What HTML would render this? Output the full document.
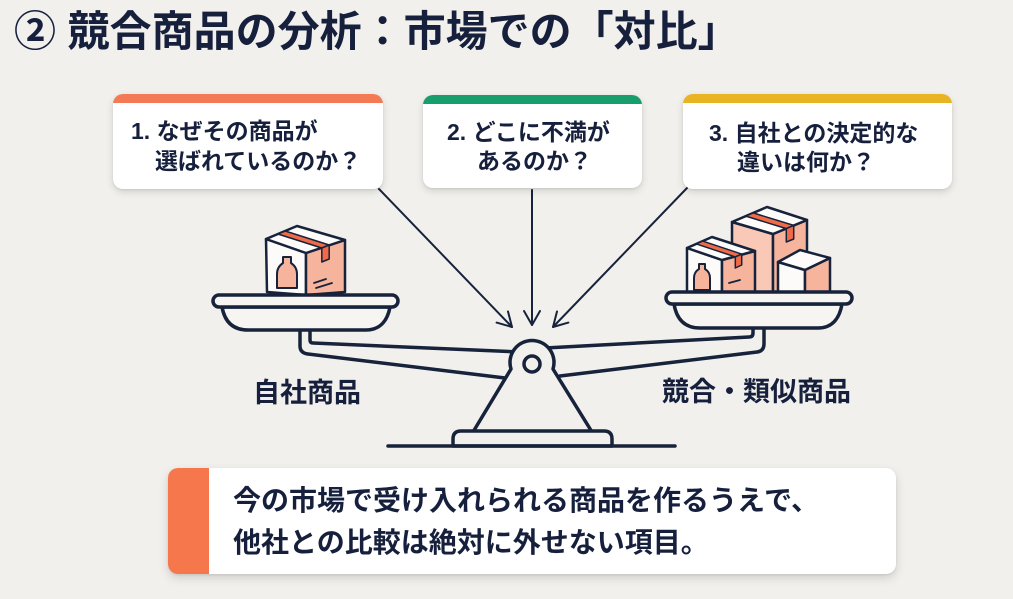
<!DOCTYPE html>
<html lang="ja">
<head>
<meta charset="utf-8">
<style>
  html,body{margin:0;padding:0;}
  body{width:1013px;height:599px;position:relative;overflow:hidden;background:#f1f0ec;
    font-family:"Liberation Sans","Noto Sans CJK JP",sans-serif;color:#16203d;font-weight:700;}
  .abs{position:absolute;white-space:nowrap;}
  .title{left:14px;top:7px;font-size:42px;line-height:50px;}
  .card{position:absolute;background:#fff;border-radius:10px;overflow:hidden;
    box-shadow:0 3px 8px rgba(0,0,0,0.13),0 1px 2px rgba(0,0,0,0.08);}
  .bar{position:absolute;left:0;top:0;right:0;height:9px;}
  .ct{font-size:23px;line-height:30px;}
  .lbl{font-size:27px;line-height:27px;}
  .note{position:absolute;left:168px;top:468px;width:728px;height:106px;background:#fff;border-radius:10px;overflow:hidden;
    box-shadow:0 4px 10px rgba(0,0,0,0.14),0 1px 2px rgba(0,0,0,0.08);}
  .note .ob{position:absolute;left:0;top:0;bottom:0;width:41px;background:#f6774c;}
  .nt{font-size:28px;line-height:42px;}
  svg{position:absolute;left:0;top:0;}
</style>
</head>
<body>

<div class="abs title">② 競合商品の分析：市場での「対比」</div>

<svg width="1013" height="599" viewBox="0 0 1013 599">
  <g fill="none" stroke="#17223b" stroke-linecap="round" stroke-linejoin="round">
    <!-- arrows -->
    <path d="M379 189 L512 327" stroke-width="2"/>
    <path d="M508 311.5 L512 327 L496.6 322.6" stroke-width="2"/>
    <path d="M532 190 L532 325" stroke-width="2"/>
    <path d="M524 311 L532 325 L540 311" stroke-width="2"/>
    <path d="M687 188 L553 327" stroke-width="2"/>
    <path d="M557 311.5 L553 327 L568.4 322.6" stroke-width="2"/>

    <!-- beam left -->
    <path d="M310 330 L310 340 Q310 343 313 343 L520 352" stroke-width="3.5"/>
    <path d="M300 330 L300 346 Q300 353 308 354 L505 378" stroke-width="3.5"/>
    <!-- beam right -->
    <path d="M545 348 L749 337 Q753 337 753 333 L753 328" stroke-width="3.5"/>
    <path d="M560 376 L757 352 Q764 351 764 344 L764 328" stroke-width="3.5"/>

    <!-- fulcrum -->
    <path d="M473 432 L511 369 A22 22 0 1 1 553 369 L592 432 Z" fill="#f1f0ec" stroke-width="3.5"/>
    <circle cx="532" cy="364" r="8" stroke-width="3.5"/>
    <path d="M453 446 L453 439 Q453 431 461 431 L604 431 Q612 431 612 439 L612 446 Z" fill="#f1f0ec" stroke-width="3.5"/>
    <path d="M388 446 L675 446" stroke-width="3.5"/>
  </g>

  <g stroke="#17223b" stroke-width="2.5" stroke-linejoin="round" stroke-linecap="round">
    <!-- left box -->
    <polygon points="266,239 306,253 306,295 267,292" fill="#fcfbf9"/>
    <polygon points="306,253 345,240 345,292 306,295" fill="#f6b49d"/>
    <polygon points="266,239 297,226 345,240 306,253" fill="#fdfcfb"/>
    <polygon points="277.8,234 285.2,231 329.2,245 321.8,248" fill="#ee6a48" stroke-width="1.5"/>
    <polygon points="321.8,248 329.2,245 329.2,259 321.8,262" fill="#ee6a48" stroke-width="1.5"/>
    <path d="M283 257 L291 257 L291 263 Q297 267 297 274 L297 288 L277 288 L277 274 Q277 267 283 263 Z" fill="#f6b49d" stroke-width="2"/>
    <path d="M314 283 L326 279 M316 288 L332 283" fill="none" stroke-width="1.8"/>

    <!-- tall box -->
    <polygon points="732,222 773,234 773,294 732,292" fill="#f9c8b6"/>
    <polygon points="773,234 807,220 807,292 773,294" fill="#f6b49d"/>
    <polygon points="732,222 767,207 807,220 773,234" fill="#fdfcfb"/>
    <polygon points="745.8,216.1 753.2,212.9 793.7,225.4 786.3,228.6" fill="#ee6a48" stroke-width="1.5"/>
    <polygon points="786.3,228.6 793.7,225.4 793.7,239 786.3,242" fill="#ee6a48" stroke-width="1.5"/>

    <!-- small box A -->
    <polygon points="687,248 722,260 722,294 687,292" fill="#fcfbf9"/>
    <polygon points="722,260 755,251 755,292 722,294" fill="#f6b49d"/>
    <polygon points="687,248 712,237 755,251 722,260" fill="#fdfcfb"/>
    <polygon points="696.3,243.9 702.7,241.1 741.7,254.1 735.3,256.9" fill="#ee6a48" stroke-width="1.5"/>
    <polygon points="735.3,256.9 741.7,254.1 741.7,265 735.3,268" fill="#ee6a48" stroke-width="1.5"/>
    <path d="M699 264 L705 264 L705 269 Q710 272 710 278 L710 290 L694 290 L694 278 Q694 272 699 269 Z" fill="#f6b49d" stroke-width="2"/>
    <path d="M729 283 L740 280" fill="none" stroke-width="1.8"/>

    <!-- cube C -->
    <polygon points="778,262 805,270 805,294 778,292" fill="#fcfbf9"/>
    <polygon points="805,270 830,258 830,292 805,294" fill="#f6b49d"/>
    <polygon points="778,262 800,250 830,258 805,270" fill="#fdfcfb"/>
  </g>

  <g fill="#f6f5f2" stroke="#17223b" stroke-width="3.5" stroke-linejoin="round">
    <!-- left pan -->
    <path d="M222 307 C224 318 230 330 248 330 L366 330 C382 330 388 318 390 307 Z"/>
    <rect x="213" y="295" width="185" height="12" rx="6"/>
    <!-- right pan -->
    <path d="M674 304 C676 316 682 328 700 328 L818 328 C834 328 840 316 842 304 Z"/>
    <rect x="666" y="292" width="186" height="12" rx="6"/>
  </g>
</svg>

<!-- cards -->
<div class="card" style="left:113px;top:94px;width:270px;height:95px;"><div class="bar" style="background:#f47a55"></div></div>
<div class="card" style="left:423px;top:95px;width:219px;height:93px;"><div class="bar" style="background:#189d6d"></div></div>
<div class="card" style="left:683px;top:94px;width:269px;height:95px;"><div class="bar" style="background:#e9b424"></div></div>

<div class="abs ct" style="left:131px;top:116px;">1. なぜその商品が</div>
<div class="abs ct" style="left:155px;top:146px;">選ばれているのか？</div>
<div class="abs ct" style="left:447px;top:117px;">2. どこに不満が</div>
<div class="abs ct" style="left:477px;top:146px;">あるのか？</div>
<div class="abs ct" style="left:709px;top:118px;">3. 自社との決定的な</div>
<div class="abs ct" style="left:737px;top:147px;">違いは何か？</div>

<div class="abs lbl" style="left:253px;top:380px;">自社商品</div>
<div class="abs lbl" style="left:662px;top:379px;">競合・類似商品</div>

<div class="note"><div class="ob"></div></div>
<div class="abs nt" style="left:233px;top:480px;">今の市場で受け入れられる商品を作るうえで、</div>
<div class="abs nt" style="left:233px;top:522px;">他社との比較は絶対に外せない項目。</div>

</body>
</html>
